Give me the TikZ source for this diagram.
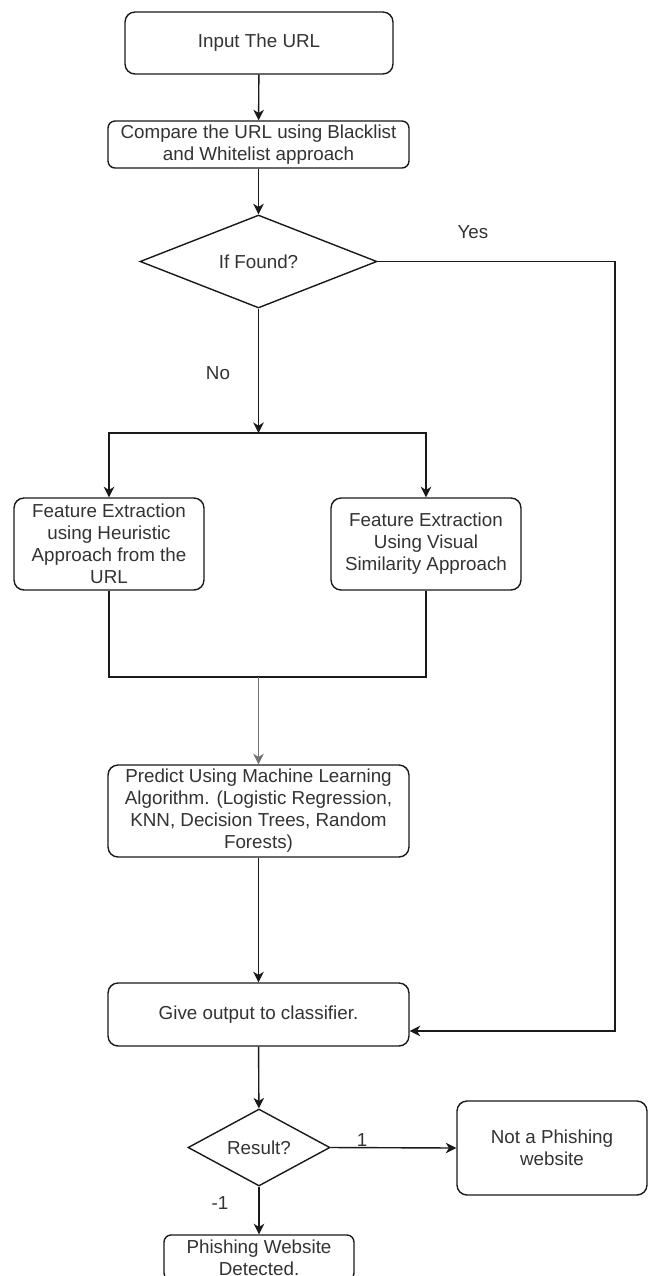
\documentclass[tikz,border=0pt]{standalone}
\usepackage{fontspec}
\setmainfont{Liberation Sans}
\usetikzlibrary{shapes.geometric,arrows.meta}
\definecolor{txt}{HTML}{333333}
\definecolor{ln}{HTML}{1A1A1A}
\begin{document}
\begin{tikzpicture}[x=0.02cm,y=-0.02cm,
  font=\fontsize{10.7}{12.5}\selectfont,
  box/.style={draw=ln,line width=0.8pt,rounded corners=0.2cm,align=center,text=txt,inner sep=2pt},
  dia/.style={draw=ln,line width=0.8pt,diamond,aspect=2.5,inner sep=0pt,align=center,text=txt},
  conn/.style={draw=ln,line width=0.8pt},
  arr/.style={conn,-{Stealth[length=6pt,width=6pt,inset=1.8pt]}},
  lbl/.style={text=txt,inner sep=0pt}]
\useasboundingbox (0,0) rectangle (649,1276);
\clip (0,0) rectangle (649,1276);
\fill[white] (0,0) rectangle (649,1276);

\node[box,minimum width=5.36cm,minimum height=1.24cm] (input) at (259,43) {Input The URL};
\node[box,rounded corners=0.14cm,minimum width=6.02cm,minimum height=0.94cm] (compare) at (258.5,144.5) {Compare the URL using Blacklist\\and Whitelist approach};
\node[dia,minimum width=4.74cm,minimum height=1.86cm] (found) at (258.5,261.5) {If Found?};
\node[box,minimum width=3.8cm,minimum height=1.84cm] (heur) at (109,544) {Feature Extraction\\using Heuristic\\Approach from the\\URL};
\node[box,minimum width=3.8cm,minimum height=1.84cm] (visual) at (426,544) {Feature Extraction\\Using Visual\\Similarity Approach};
\node[box,minimum width=6.02cm,minimum height=1.84cm] (ml) at (258.5,811) {Predict Using Machine Learning\\Algorithm. (Logistic Regression,\\KNN, Decision Trees, Random\\Forests)};
\node[box,minimum width=6.02cm,minimum height=1.26cm] (classifier) at (258.5,1014.5) {Give output to classifier.};
\node[dia,minimum width=2.84cm,minimum height=1.54cm] (result) at (259,1147.5) {Result?};
\node[box,minimum width=3.8cm,minimum height=1.88cm] (notphish) at (552,1148) {Not a Phishing\\website};
\node[box,rounded corners=0.14cm,minimum width=3.8cm,minimum height=0.9cm] (phish) at (259,1257.5) {Phishing Website\\Detected.};

\coordinate (yesc) at (615,261.5);
\coordinate (yesd) at (615,1031);
\coordinate (split) at (258.5,433);
\coordinate (merge) at (258.5,677);

\draw[arr] (input) -- (compare);
\draw[arr] (compare) -- (found);
\draw[arr] (found.east) -- (yesc) -- (yesd) -- (classifier.east |- yesd);
\draw[arr] (found.south) -- (split);
\draw[arr] (split) -| (heur.north);
\draw[arr] (split) -| (visual.north);
\draw[conn] (heur.south) |- (merge);
\draw[conn] (visual.south) |- (merge);
\draw[arr,draw=black!55] (merge) -- (ml.north);
\draw[arr] (ml) -- (classifier);
\draw[arr] (classifier) -- (result);
\draw[arr] (result.east) -- (notphish.west);
\draw[arr] (result.south) -- (phish.north);

\node[lbl] (yes) at (473,232) {Yes};
\node[lbl] (no) at (218,373) {No};
\node[lbl] (one) at (362,1140) {1};
\node[lbl] (minusone) at (220,1203) {-1};
\end{tikzpicture}
\end{document}
